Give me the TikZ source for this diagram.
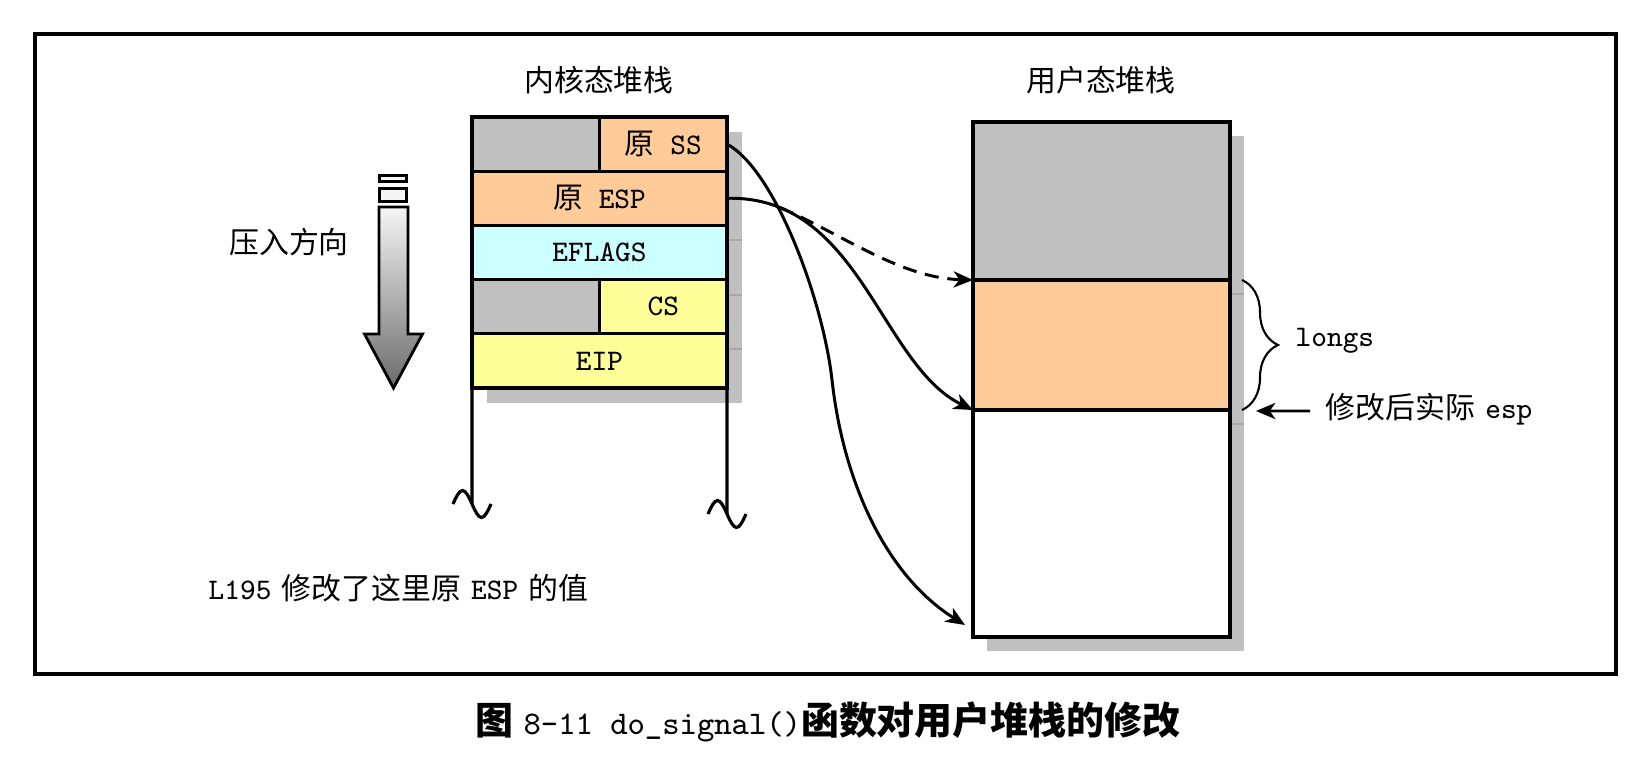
\documentclass[tikz,border=0pt]{standalone}
\usepackage{fontspec}
\usepackage{tikz}
\usepackage{xcolor}
\usetikzlibrary{arrows.meta,decorations.pathreplacing}
\newfontfamily\cjk{Noto Sans CJK SC}
\newcommand{\figfont}{\fontsize{8.5}{10}\selectfont}
\definecolor{cellgray}{HTML}{C0C0C0}
\definecolor{cellorange}{HTML}{FFCC99}
\definecolor{cellcyan}{HTML}{CCFFFF}
\definecolor{cellyellow}{HTML}{FFFF99}
\definecolor{shadowline}{HTML}{A8A8A8}
\tikzset{
  cell/.style={draw, line width=0.9pt, inner sep=0pt, outer sep=0pt, minimum height=0.542cm, font=\figfont\ttfamily},
  fullcell/.style={cell, minimum width=2.55cm},
  halfcell/.style={cell, minimum width=1.275cm},
  ucell/.style={draw, line width=0.9pt, inner sep=0pt, outer sep=0pt, minimum width=2.57cm},
  pointer/.style={line width=0.85pt, -{Stealth[length=5.5pt,width=4.6pt,inset=1.6pt]}},
}

\begin{document}
\begin{tikzpicture}[font=\figfont]
  \useasboundingbox (0,0) rectangle (16.52,7.68);
  % frame
  \draw[line width=1.2pt] (0.35,0.94) rectangle (16.16,7.34);
  % titles
  \node at(5.99,6.88)(ktitle){\cjk 内核态堆栈};
  \node at(11.01,6.88)(utitle){\cjk 用户态堆栈};
  % shadows
  \fill[cellgray] (4.87,3.65) rectangle (7.42,6.36);
  \foreach \y in {5.28,4.73,4.19}
    \draw[shadowline, line width=0.4pt] (7.27,\y) -- (7.42,\y);
  \fill[cellgray] (9.87,1.17) rectangle (12.44,6.32);
  \foreach \y in {4.74,3.44}
    \draw[shadowline, line width=0.4pt] (12.30,\y) -- (12.44,\y);
  % kernel stack
  \node[halfcell, fill=cellgray] at(5.3575,6.239)(ssgap){};
  \node[halfcell, fill=cellorange] at(6.6325,6.239)(ss){{\cjk 原} SS};
  \node[fullcell, fill=cellorange] at(5.995,5.697)(esp){{\cjk 原} ESP};
  \node[fullcell, fill=cellcyan] at(5.995,5.155)(eflags){EFLAGS};
  \node[halfcell, fill=cellgray] at(5.3575,4.613)(csgap){};
  \node[halfcell, fill=cellyellow] at(6.6325,4.613)(cs){CS};
  \node[fullcell, fill=cellyellow] at(5.995,4.071)(eip){EIP};
  % stack continues
  \coordinate (lcut) at(4.72,2.64);
  \coordinate (rcut) at(7.27,2.54);
  \draw[line width=0.9pt] (eip.south west) -- (lcut);
  \draw[line width=0.9pt] (eip.south east) -- (rcut);
  \draw[line width=0.9pt] ([xshift=-0.19cm]lcut) sin ++(0.095,0.135) cos ++(0.095,-0.135) sin ++(0.095,-0.135) cos ++(0.095,0.135);
  \draw[line width=0.9pt] ([xshift=-0.19cm]rcut) sin ++(0.095,0.135) cos ++(0.095,-0.135) sin ++(0.095,-0.135) cos ++(0.095,0.135);
  % push direction
  \draw[line width=0.9pt, fill=white!96!black] (3.795,5.865) rectangle (4.065,5.925);
  \draw[line width=0.9pt, fill=white!96!black] (3.795,5.665) rectangle (4.065,5.795);
  \shadedraw[top color=white!96!black, bottom color=black!58, line width=0.8pt]
    (3.79,5.61) -- (4.08,5.61) -- (4.08,4.34) -- (4.225,4.34) -- (3.935,3.80)
    -- (3.645,4.34) -- (3.79,4.34) -- cycle;
  \node at(2.89,5.26)(pushlabel){\cjk 压入方向};
  % user stack
  \node[ucell, fill=cellgray, minimum height=1.58cm] at(11.015,5.67)(ugray){};
  \node[ucell, fill=cellorange, minimum height=1.30cm] at(11.015,4.23)(uorange){};
  \node[ucell, fill=white, minimum height=2.27cm] at(11.015,2.445)(uwhite){};
  % longs brace
  \draw[line width=0.6pt, decorate, decoration={brace, amplitude=0.36cm}]
    ([xshift=0.12cm]uorange.north east) -- ([xshift=0.12cm]uorange.south east);
  \node[anchor=west, inner sep=0pt, font=\figfont\ttfamily] at(12.95,4.27)(longs){longs};
  % actual esp
  \node[anchor=west, inner sep=0pt] at(13.25,3.59)(espnote){{\cjk 修改后实际} {\ttfamily esp}};
  \coordinate (esptip) at(12.56,3.57);
  \draw[pointer] ([xshift=-0.15cm,yshift=-0.02cm]espnote.west) -- (esptip);
  % connectors
  \coordinate (sstip) at(9.65,1.43);
  \draw[pointer] (ss.east) .. controls (7.75,5.98) and (8.23,4.68) .. (8.32,3.88)
    .. controls (8.43,2.88) and (8.85,1.93) .. (sstip);
  \draw[pointer] (esp.east) .. controls (8.60,5.73) and (8.80,4.03) .. coordinate[pos=0.15](split) (uorange.south west);
  \draw[pointer, dash pattern=on 4pt off 2.5pt] (split) .. controls (8.40,5.35) and (9.00,4.90) .. (ugray.south west);
  % note
  \node[anchor=west, inner sep=0pt] at(2.08,1.80)(note){{\ttfamily L195} {\cjk 修改了这里原} {\ttfamily ESP} {\cjk 的值}};
  % caption
  \node at(8.28,0.46)(caption){{\cjk\bfseries\fontsize{10.8}{12}\selectfont 图} {\ttfamily\fontsize{9.4}{11}\selectfont 8-11 do\_signal()}{\cjk\bfseries\fontsize{10.8}{12}\selectfont 函数对用户堆栈的修改}};
\end{tikzpicture}
\end{document}
